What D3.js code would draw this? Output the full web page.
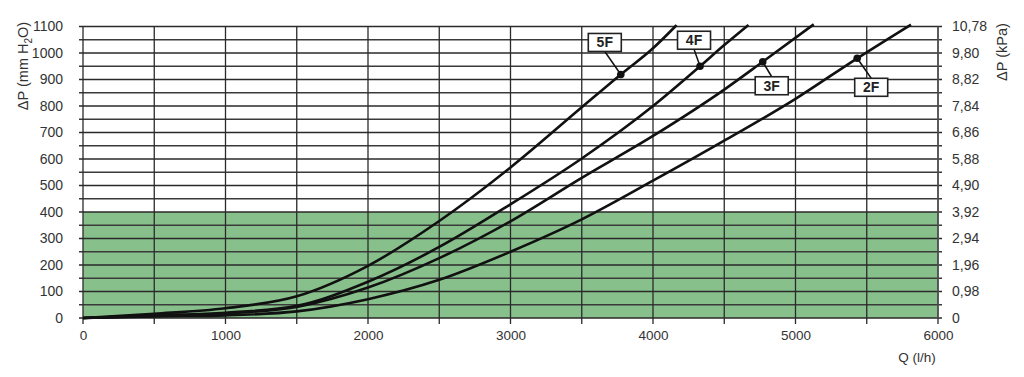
<!DOCTYPE html>
<html>
<head>
<meta charset="utf-8">
<script src="https://cdn.jsdelivr.net/npm/d3@7"></script>
<style>
  body { margin: 0; background: #fff; }
  svg { display: block; font-family: 'Liberation Sans', Arial, sans-serif; }
</style>
</head>
<body>
<svg id="chart" width="1024" height="377"></svg>
<script>
// pressure drop curves, Q in l/h, dP in mm H2O
const flow5F = [0, 500, 1000, 1500, 2000, 2500, 3000, 3500, 3774, 4000, 4165];
const dp5F = [0, 16, 37, 82, 197, 366, 568, 795, 919, 1018, 1105];
const flow4F = [0, 500, 1000, 1500, 2000, 2500, 3000, 3500, 4000, 4330, 4500, 4670];
const dp4F = [0, 10, 20, 46, 137, 268, 429, 602, 800, 950, 1030, 1106];
const flow3F = [0, 500, 1000, 1500, 2000, 2500, 3000, 3500, 4000, 4500, 4770, 5128];
const dp3F = [0, 8, 17, 42, 115, 226, 365, 529, 687, 862, 967, 1108];
const flow2F = [0, 500, 1000, 1500, 2000, 2500, 3000, 3500, 4000, 4500, 5000, 5433, 5810];
const dp2F = [0, 6, 10, 25, 71, 144, 250, 372, 518, 669, 827, 980, 1107];

const seriesNames = ['5F', '4F', '3F', '2F'];
// where the marker dot sits on each curve
const markerFlow = [3774, 4330, 4770, 5433];
const markerDp = [919, 950, 967, 980];

const mmTicks = [0, 100, 200, 300, 400, 500, 600, 700, 800, 900, 1000, 1100];
const kpaLabels = ['0', '0,98', '1,96', '2,94', '3,92', '4,90', '5,88', '6,86', '7,84', '8,82', '9,80', '10,78'];
const flowTicks = [0, 1000, 2000, 3000, 4000, 5000, 6000];
const greenLimit = 400;

const margin = { top: 26.5, right: 86, bottom: 59, left: 83 };
const W = 1024, H = 377;

const svg = d3.select('#chart');
const x = d3.scaleLinear().domain([0, 6000]).range([margin.left, W - margin.right]);
const y = d3.scaleLinear().domain([0, 1100]).range([H - margin.bottom, margin.top]);
const x0 = x.range()[0], x1 = x.range()[1];
const y0 = y.range()[0], y1 = y.range()[1];
const plain = d3.format('d');

// green zone
svg.append('rect')
  .attr('x', x0).attr('y', y(greenLimit))
  .attr('width', x1 - x0).attr('height', y0 - y(greenLimit))
  .attr('fill', '#88c08b');

// horizontal grid every 50
svg.append('g').selectAll('line')
  .data(d3.range(0, 1101, 50))
  .join('line')
  .attr('x1', x0 - 4).attr('x2', x1 + 4)
  .attr('y1', d => y(d)).attr('y2', d => y(d))
  .attr('stroke', d => (d % 100 === 0 ? '#2a2a2a' : '#3a3a3a'))
  .attr('stroke-width', 1.3);

// vertical grid every 500, running past the axis as ticks
svg.append('g').selectAll('line')
  .data(d3.range(0, 6001, 500))
  .join('line')
  .attr('x1', d => x(d)).attr('x2', d => x(d))
  .attr('y1', y1).attr('y2', y0 + 6)
  .attr('stroke', '#2a2a2a')
  .attr('stroke-width', 1.3);

// left axis labels
const yLeft = d3.axisLeft(y).tickValues(mmTicks).tickFormat(plain).tickSize(0).tickPadding(20);
svg.append('g')
  .attr('transform', `translate(${x0},0)`)
  .call(yLeft)
  .call(g => g.select('.domain').remove())
  .selectAll('text')
  .attr('font-size', 14).attr('fill', '#333');

// right axis labels in kPa
const yRight = d3.axisRight(y).tickValues(mmTicks)
  .tickFormat((d, i) => kpaLabels[i]).tickSize(0).tickPadding(14);
svg.append('g')
  .attr('transform', `translate(${x1},0)`)
  .call(yRight)
  .call(g => g.select('.domain').attr('stroke', '#555').attr('stroke-width', 1.5).attr('d', `M0,${y0}V${y1}`))
  .selectAll('text')
  .attr('font-size', 14).attr('fill', '#333');

// bottom axis labels
const xAxis = d3.axisBottom(x).tickValues(flowTicks).tickFormat(plain).tickSize(0).tickPadding(12);
svg.append('g')
  .attr('transform', `translate(0,${y0})`)
  .call(xAxis)
  .call(g => g.select('.domain').remove())
  .selectAll('text')
  .attr('font-size', 13.5).attr('fill', '#333');

// axis titles
const leftTitle = svg.append('text')
  .attr('transform', 'translate(28,66) rotate(-90)')
  .attr('text-anchor', 'middle')
  .attr('font-size', 14.5).attr('fill', '#333');
leftTitle.append('tspan').text('ΔP (mm H');
leftTitle.append('tspan').attr('font-size', 10).attr('dy', 4).text('2');
leftTitle.append('tspan').attr('dy', -4).text('O)');

svg.append('text')
  .attr('transform', 'translate(1007,52) rotate(-90)')
  .attr('text-anchor', 'middle')
  .attr('font-size', 14.5).attr('fill', '#333')
  .text('ΔP (kPa)');

svg.append('text')
  .attr('x', 917).attr('y', 362)
  .attr('text-anchor', 'middle')
  .attr('font-size', 13.5).attr('fill', '#333')
  .text('Q (l/h)');

// curves
const curves = [
  { name: '5F', flow: flow5F, dp: dp5F },
  { name: '4F', flow: flow4F, dp: dp4F },
  { name: '3F', flow: flow3F, dp: dp3F },
  { name: '2F', flow: flow2F, dp: dp2F }
];
const line = d3.line()
  .x(d => x(d[0]))
  .y(d => y(d[1]))
  .curve(d3.curveMonotoneX);

svg.append('g').selectAll('path')
  .data(curves)
  .join('path')
  .attr('d', c => line(c.flow.map((f, i) => [f, c.dp[i]])))
  .attr('fill', 'none')
  .attr('stroke', '#111')
  .attr('stroke-width', 2.6);

// labels with leader lines; offsets are the box centre relative to the marker
const labelOffset = [[-16, -32], [-6, -26], [9, 24], [14, 29]];
const boxW = 33, boxH = 18;

seriesNames.forEach((name, i) => {
  const px = x(markerFlow[i]), py = y(markerDp[i]);
  const bx = px + labelOffset[i][0], by = py + labelOffset[i][1];
  const edgeY = labelOffset[i][1] < 0 ? by + boxH / 2 : by - boxH / 2;
  const g = svg.append('g');
  g.append('line')
    .attr('x1', bx).attr('y1', edgeY)
    .attr('x2', px).attr('y2', py)
    .attr('stroke', '#111').attr('stroke-width', 1.5);
  g.append('circle')
    .attr('cx', px).attr('cy', py).attr('r', 3.8)
    .attr('fill', '#111');
  g.append('rect')
    .attr('x', bx - boxW / 2).attr('y', by - boxH / 2)
    .attr('width', boxW).attr('height', boxH)
    .attr('fill', '#fff').attr('stroke', '#222').attr('stroke-width', 1.6);
  g.append('text')
    .attr('x', bx).attr('y', by + 5)
    .attr('text-anchor', 'middle')
    .attr('font-size', 14).attr('font-weight', 'bold').attr('fill', '#222')
    .text(name);
});
</script>
</body>
</html>
